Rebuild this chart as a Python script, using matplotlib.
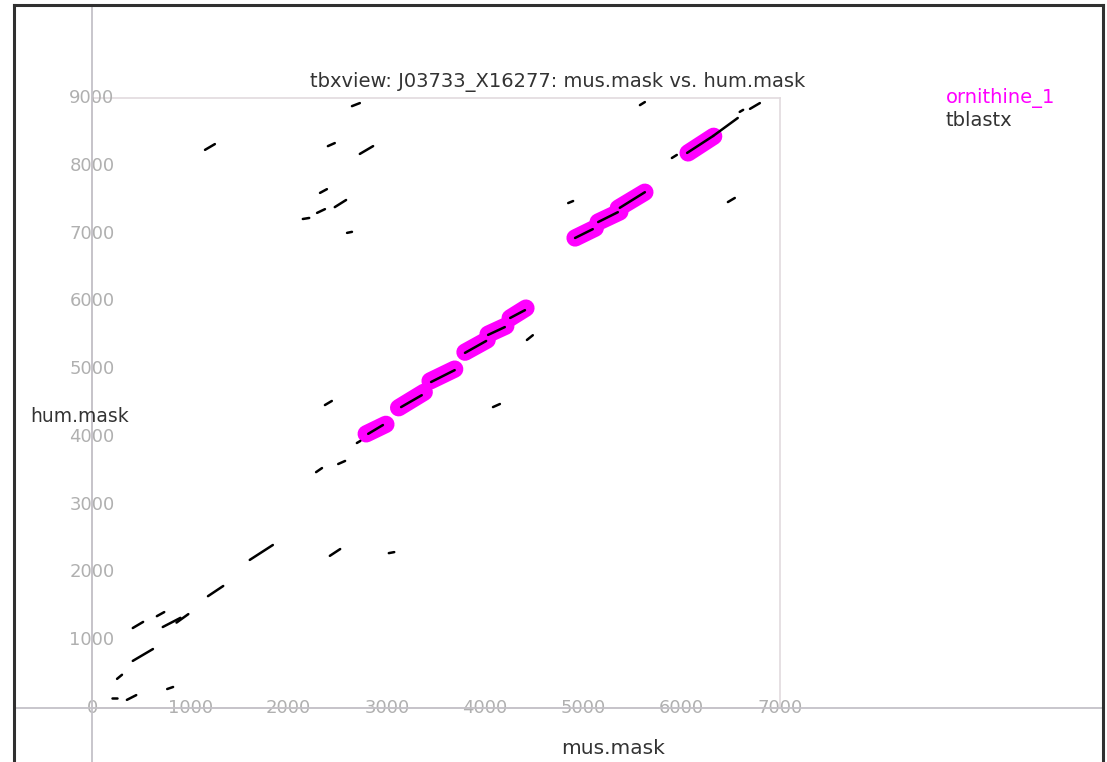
import matplotlib
matplotlib.use('Agg')
import matplotlib.pyplot as plt
from matplotlib.lines import Line2D

# ornithine_1 annotated regions: (mus start, hum start, mus end, hum end)
ornithine_segs = [
    (2790, 4045, 2990, 4185),
    (3120, 4430, 3380, 4660),
    (3440, 4825, 3690, 5000),
    (3795, 5250, 4020, 5430),
    (4030, 5515, 4210, 5635),
    (4255, 5755, 4415, 5900),
    (4915, 6935, 5120, 7080),
    (5150, 7170, 5370, 7320),
    (5355, 7375, 5625, 7610),
    (6065, 8190, 6325, 8435),
]

# tblastx hits
tblastx_segs = [
    # along the main diagonal (inside the annotated blocks)
    (2810, 4045, 2960, 4175),
    (3145, 4440, 3355, 4615),
    (3450, 4810, 3690, 4985),
    (3795, 5240, 4010, 5415),
    (4030, 5505, 4200, 5620),
    (4255, 5755, 4405, 5870),
    (4915, 6935, 5095, 7065),
    (5150, 7170, 5350, 7315),
    (5370, 7380, 5625, 7610),
    (6055, 8190, 6320, 8440),
    (6320, 8440, 6570, 8705),
    # off-block hits
    (1150, 8235, 1250, 8320),
    (2400, 8290, 2470, 8335),
    (2725, 8175, 2860, 8290),
    (2645, 8880, 2725, 8925),
    (2320, 7600, 2390, 7655),
    (2470, 7390, 2585, 7495),
    (2290, 7305, 2370, 7360),
    (2145, 7215, 2210, 7230),
    (2595, 7010, 2645, 7025),
    (5575, 8895, 5625, 8940),
    (6590, 8795, 6625, 8825),
    (6695, 8840, 6795, 8925),
    (5900, 8115, 5950, 8160),
    (4845, 7450, 4895, 7480),
    (6470, 7465, 6540, 7525),
    (2370, 4470, 2440, 4530),
    (4080, 4440, 4150, 4485),
    (4425, 5430, 4485, 5500),
    (2695, 3910, 2730, 3940),
    (2280, 3480, 2340, 3540),
    (2505, 3600, 2575, 3645),
    (2420, 2245, 2525, 2345),
    (3020, 2285, 3075, 2300),
    (1605, 2185, 1840, 2405),
    (1180, 1650, 1335, 1800),
    (660, 1355, 735, 1415),
    (720, 1195, 900, 1330),
    (860, 1260, 980, 1385),
    (415, 1180, 520, 1270),
    (415, 695, 620, 870),
    (255, 430, 305, 490),
    (205, 150, 255, 150),
    (355, 120, 450, 190),
    (765, 280, 825, 310),
]

xticks = [0, 1000, 2000, 3000, 4000, 5000, 6000, 7000]
yticks = [1000, 2000, 3000, 4000, 5000, 6000, 7000, 8000, 9000]

W, H = 1107, 762
fig = plt.figure(figsize=(W / 100, H / 100), dpi=100)

# plot box: x 92..780 px, y 98..708 px (from top)
ax = fig.add_axes([92 / W, (H - 708) / H, 688 / W, 610 / H])
ax.set_xlim(0, 7000)
ax.set_ylim(0, 9000)
ax.set_xticks([])
ax.set_yticks([])
for s in ax.spines.values():
    s.set_color('#e2dade')
    s.set_linewidth(1.2)

# full-width gray axis lines
fig.add_artist(Line2D([92 / W, 92 / W], [0, 1 - 5 / H], color='#c4c2c8', lw=1.3))
fig.add_artist(Line2D([14 / W, 1103 / W], [(H - 708) / H] * 2, color='#c4c2c8', lw=1.3))

# outer frame
frame_kw = dict(color='#303030', lw=2.2)
fig.add_artist(Line2D([14 / W, 14 / W], [0, 1 - 5 / H], **frame_kw))
fig.add_artist(Line2D([1103 / W, 1103 / W], [0, 1 - 5 / H], **frame_kw))
fig.add_artist(Line2D([14 / W, 1103 / W], [1 - 5 / H] * 2, **frame_kw))

for x0, y0, x1, y1 in ornithine_segs:
    ax.plot([x0, x1], [y0, y1], color='#ff00ff', lw=12.5, solid_capstyle='round', zorder=2)
for x0, y0, x1, y1 in tblastx_segs:
    ax.plot([x0, x1], [y0, y1], color='black', lw=1.8, solid_capstyle='round', zorder=3)

tick_kw = dict(color='#b0b0b0', fontsize=13, ha='center', va='center', clip_on=False)
for t in xticks:
    ax.text(t, 0, str(t), **tick_kw)
for t in yticks:
    ax.text(0, t, str(t), **tick_kw)

fig.text(558 / W, 1 - 82 / H, 'tbxview: J03733_X16277: mus.mask vs. hum.mask',
         color='#333333', fontsize=14, ha='center', va='center')
fig.text(613 / W, 1 - 748 / H, 'mus.mask', color='#333333', fontsize=14.5,
         ha='center', va='center')
fig.text(30 / W, 1 - 416 / H, 'hum.mask', color='#333333', fontsize=13.5,
         ha='left', va='center')
fig.text(946 / W, 1 - 98 / H, 'ornithine_1', color='#ff00ff', fontsize=14,
         ha='left', va='center')
fig.text(946 / W, 1 - 120 / H, 'tblastx', color='#333333', fontsize=14,
         ha='left', va='center')

fig.savefig('out.png', dpi=100)
